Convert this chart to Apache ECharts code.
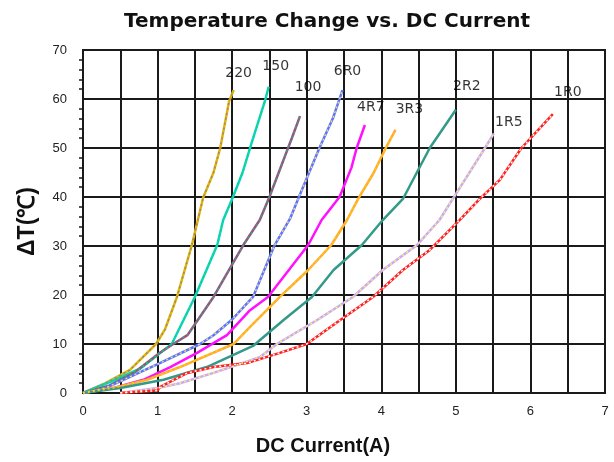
<!DOCTYPE html>
<html><head><meta charset="utf-8">
<script src="https://cdn.jsdelivr.net/npm/echarts@6/dist/echarts.min.js"></script>
<style>html,body{margin:0;padding:0;background:#fff}#c{width:614px;height:462px}</style>
</head><body><div id="c"></div>
<script>
// Data: [DC current (A), ΔT (°C)]
const names = ['220','150','100','6R0','4R7','3R3','2R2','1R5','1R0'];
const s220 = [[0,0],[0.3,2],[0.63,4.7],[0.98,10],[1.1,13],[1.26,19.6],[1.46,30.2],[1.54,35.3],[1.61,39.8],[1.75,45],[1.84,50],[1.96,59.6],[2.02,61.8]];
const s150 = [[0,0],[0.4,2.5],[0.77,5],[1.04,8.2],[1.19,10],[1.5,19.6],[1.8,30.2],[1.88,35.3],[2.0,39.6],[2.14,45],[2.26,51],[2.44,59.6],[2.49,62.5]];
const s100 = [[0,0],[0.35,1.5],[0.68,4.1],[1.03,8.2],[1.21,10],[1.4,11.8],[1.75,19.6],[2.15,30.2],[2.37,35.3],[2.5,40],[2.7,48],[2.8,52],[2.91,56.5]];
const s6R0 = [[0,0],[0.3,1],[0.63,3.3],[1.03,6.1],[1.57,10],[1.75,11.8],[2.0,15],[2.28,19.6],[2.57,30.2],[2.78,35.7],[2.95,42],[3.17,50],[3.35,56],[3.48,61.8]];
const s4R7 = [[0,0],[0.4,1],[0.81,2.7],[1.17,5.3],[1.53,8.2],[1.93,11.8],[2.24,16.9],[2.48,19.6],[3.02,30.2],[3.2,35.3],[3.44,40],[3.6,46],[3.67,50],[3.78,54.7]];
const s3R3 = [[0,0],[0.4,1],[0.86,2.7],[1.3,5.3],[2.02,10],[2.24,13.5],[2.64,19.6],[3.02,25.1],[3.33,30.2],[3.54,35.3],[3.69,39.6],[3.9,45],[4.06,50],[4.19,53.7]];
const s2R2 = [[0,0],[0.5,1],[1.08,2.7],[1.66,5.3],[2.28,9.6],[2.69,14.9],[3.07,19.6],[3.36,25.1],[3.74,30.2],[4.02,35.3],[4.29,39.6],[4.65,50],[5.0,57.8]];
const s1R5 = [[0.5,0],[1.0,1.0],[1.3,2.0],[1.75,4.1],[2.37,7.3],[2.6,10],[3.14,14.9],[3.62,19.6],[4.02,25.1],[4.48,30.2],[4.78,35.3],[5.12,43.5],[5.39,50],[5.51,53]];
const s1R0 = [[0.5,0],[1.0,0.5],[1.03,1.2],[1.4,4.1],[1.75,5.3],[2.2,6.1],[2.64,8.2],[3.0,10],[3.45,14.9],[3.89,19.6],[4.29,25.1],[4.65,29.2],[5.05,35.3],[5.32,39.6],[5.59,43.5],[5.88,50],[6.3,56.9]];
const seriesData = [s220,s150,s100,s6R0,s4R7,s3R3,s2R2,s1R5,s1R0];
const xTicks = [0,1,2,3,4,5,6,7];

// styles
const mainColors = ['#E6B400','#00D6D6','#995577','#5577FF','#FF11FF','#FFAA33','#339988','#CCA8F0','#FF2020'];
const dashColors = ['#8a8a8a','#33CC44','#33A0A0','#FFCC88',null,'#FFCC00',null,'#F4F080','#ffffff'];
const labelOffsets = [[5,-17],[7,-20],[8,-29],[5,-19],[6,-18],[14,-21],[11,-23],[15,-11],[15,-22]];

const series = [];
seriesData.forEach((d,i)=>{
  series.push({type:'line', name:names[i], data:d, showSymbol:false, symbol:'none', silent:true, z:2,
    lineStyle:{color:mainColors[i], width:2.5}});
  if (dashColors[i]) series.push({type:'line', name:names[i]+'_d', data:d, symbol:'none', silent:true, z:3,
    lineStyle:{color:dashColors[i], width:1.5, type:[2,3]}});
  series.push({type:'scatter', name:names[i]+'_l', data:[d[d.length-1]], symbolSize:0.1, silent:true, z:5,
    itemStyle:{color:'#000'},
    label:{show:true, position:'inside', offset:labelOffsets[i], formatter:names[i], color:'#000',
      textBorderWidth:0, fontFamily:'DejaVu Sans', fontSize:14}});
});

const chart = echarts.init(document.getElementById('c'));
chart.setOption({
  animation:false,
  backgroundColor:'#fff',
  title:{text:'Temperature Change vs. DC Current', left:119, top:7,
    textStyle:{fontFamily:'DejaVu Sans', fontWeight:'bold', fontSize:20, color:'#111'}},
  grid:{left:83, top:50, right:9, bottom:69, show:true, borderColor:'#1a1a1a', borderWidth:2, backgroundColor:'#fff'},
  xAxis:{type:'value', min:0, max:7, interval:0.5,
    name:'DC Current(A)', nameLocation:'middle', nameGap:43,
    nameTextStyle:{fontFamily:'Liberation Sans', fontWeight:'bold', fontSize:20, color:'#111', padding:[0,42,0,0]},
    axisLine:{show:true, lineStyle:{color:'#1a1a1a', width:2}},
    axisTick:{show:false},
    axisLabel:{margin:12, fontFamily:'Liberation Sans', fontSize:13, color:'#222',
      formatter:v=> xTicks.indexOf(v)>=0 ? String(v) : ''},
    splitLine:{show:true, lineStyle:{color:'#1a1a1a', width:2}}},
  yAxis:{type:'value', min:0, max:70, interval:10,
    name:'ΔT(℃)', nameLocation:'middle', nameGap:44, nameRotate:90,
    nameTextStyle:{fontFamily:'Liberation Sans', fontWeight:'bold', fontSize:23, color:'#111'},
    axisLine:{show:true, lineStyle:{color:'#1a1a1a', width:2}},
    axisTick:{show:false},
    minorTick:{show:true, splitNumber:5, length:4, lineStyle:{color:'#1a1a1a', width:1.5}},
    axisLabel:{margin:16, fontFamily:'Liberation Sans', fontSize:13, color:'#222'},
    splitLine:{show:true, lineStyle:{color:'#1a1a1a', width:2}}},
  series:series
});
</script></body></html>
